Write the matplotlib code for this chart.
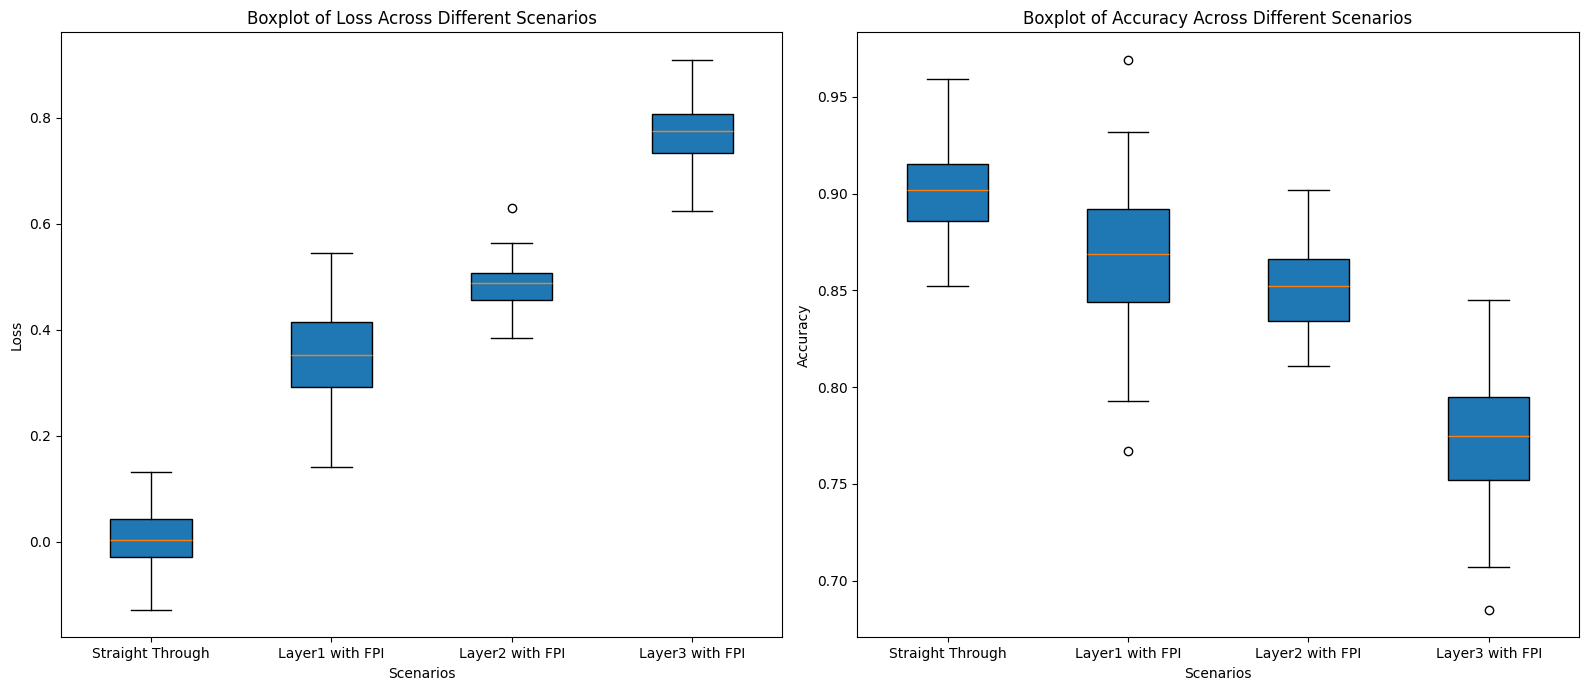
import matplotlib
matplotlib.use("Agg")
import matplotlib.pyplot as plt

scenarios = ["Straight Through", "Layer1 with FPI", "Layer2 with FPI", "Layer3 with FPI"]

# Loss summary stats per scenario
loss_whislo = [-0.128, 0.142, 0.385, 0.625]
loss_q1 = [-0.029, 0.293, 0.456, 0.734]
loss_med = [0.004, 0.353, 0.489, 0.775]
loss_q3 = [0.044, 0.414, 0.508, 0.807]
loss_whishi = [0.132, 0.545, 0.564, 0.909]
loss_fliers = [[], [], [0.629], []]

# Accuracy summary stats per scenario
acc_whislo = [0.852, 0.793, 0.811, 0.707]
acc_q1 = [0.886, 0.844, 0.834, 0.752]
acc_med = [0.902, 0.869, 0.852, 0.775]
acc_q3 = [0.915, 0.892, 0.866, 0.795]
acc_whishi = [0.959, 0.932, 0.902, 0.845]
acc_fliers = [[], [0.969, 0.767], [], [0.685]]


def make_stats(lo, q1, med, q3, hi, fliers):
    return [
        {"whislo": a, "q1": b, "med": c, "q3": d, "whishi": e, "fliers": f, "label": s}
        for a, b, c, d, e, f, s in zip(lo, q1, med, q3, hi, fliers, scenarios)
    ]


fig, axes = plt.subplots(1, 2, figsize=(15.9, 6.9), dpi=100)

panels = [
    (make_stats(loss_whislo, loss_q1, loss_med, loss_q3, loss_whishi, loss_fliers), "Loss"),
    (make_stats(acc_whislo, acc_q1, acc_med, acc_q3, acc_whishi, acc_fliers), "Accuracy"),
]

for ax, (stats, name) in zip(axes, panels):
    ax.bxp(stats, patch_artist=True)
    ax.set_title(f"Boxplot of {name} Across Different Scenarios")
    ax.set_xlabel("Scenarios")
    ax.set_ylabel(name)

# match the reference's margins
fig.subplots_adjust(left=60 / 1568, right=1557 / 1568, top=1 - 32 / 680,
                    bottom=1 - 628 / 680, wspace=0.104)
plt.savefig("out.png", dpi=100)
